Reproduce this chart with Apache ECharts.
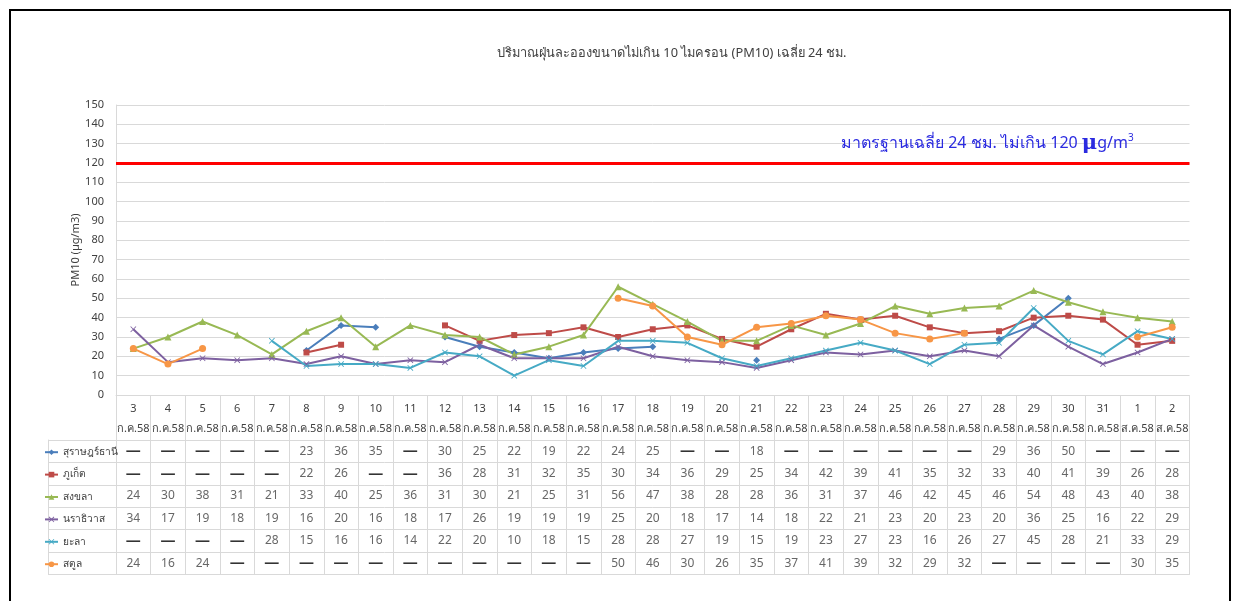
<!DOCTYPE html>
<html>
<head>
<meta charset="utf-8">
<script src="https://cdn.jsdelivr.net/npm/echarts@6/dist/echarts.min.js"></script>
<style>
html,body{margin:0;padding:0;background:#fff;}
#chart{width:1236px;height:601px;}
</style>
</head>
<body>
<div id="chart"></div>
<script>
var days = ['3','4','5','6','7','8','9','10','11','12','13','14','15','16','17','18','19','20','21','22','23','24','25','26','27','28','29','30','31','1','2'];
var months = ['ก.ค.58','ก.ค.58','ก.ค.58','ก.ค.58','ก.ค.58','ก.ค.58','ก.ค.58','ก.ค.58','ก.ค.58','ก.ค.58','ก.ค.58','ก.ค.58','ก.ค.58','ก.ค.58','ก.ค.58','ก.ค.58','ก.ค.58','ก.ค.58','ก.ค.58','ก.ค.58','ก.ค.58','ก.ค.58','ก.ค.58','ก.ค.58','ก.ค.58','ก.ค.58','ก.ค.58','ก.ค.58','ก.ค.58','ส.ค.58','ส.ค.58'];
var names = ['สุราษฎร์ธานี','ภูเก็ต','สงขลา','นราธิวาส','ยะลา','สตูล'];
var surat = [null,null,null,null,null,23,36,35,null,30,25,22,19,22,24,25,null,null,18,null,null,null,null,null,null,29,36,50,null,null,null];
var phuket = [null,null,null,null,null,22,26,null,null,36,28,31,32,35,30,34,36,29,25,34,42,39,41,35,32,33,40,41,39,26,28];
var songkhla = [24,30,38,31,21,33,40,25,36,31,30,21,25,31,56,47,38,28,28,36,31,37,46,42,45,46,54,48,43,40,38];
var narathiwat = [34,17,19,18,19,16,20,16,18,17,26,19,19,19,25,20,18,17,14,18,22,21,23,20,23,20,36,25,16,22,29];
var yala = [null,null,null,null,28,15,16,16,14,22,20,10,18,15,28,28,27,19,15,19,23,27,23,16,26,27,45,28,21,33,29];
var satun = [24,16,24,null,null,null,null,null,null,null,null,null,null,null,50,46,30,26,35,37,41,39,32,29,32,null,null,null,null,30,35];
var yTicks = {min:0, max:150, interval:10};
var standardValue = 120;

var allData = [surat, phuket, songkhla, narathiwat, yala, satun];
var colors = ['#4a7ebb','#be4b48','#98b954','#7d60a0','#46aac5','#f79646'];
var xPath = 'path://M0,1L1,0L5,4L9,0L10,1L6,5L10,9L9,10L5,6L1,10L0,9L4,5Z';
var symbols = ['diamond','rect','triangle',xPath,xPath,'circle'];
var symSizes = [7,6,7,6,6,7];

var FONT = '"Noto Sans", "DejaVu Sans", sans-serif';

var series = [];
names.forEach(function(n, k){
  var s = {
    name: n, type: 'line', xAxisIndex: 0, yAxisIndex: 0,
    data: allData[k], connectNulls: false,
    symbol: symbols[k], symbolSize: symSizes[k], showSymbol: true,
    lineStyle: {width: 2, color: colors[k]},
    itemStyle: {color: colors[k]},
    z: 3
  };
  if (k === 0) {
    s.markLine = {
      silent: true, symbol: 'none', animation: false,
      data: [{yAxis: standardValue}],
      lineStyle: {color: '#ff0000', width: 3, type: 'solid'},
      label: {show: false}
    };
  }
  series.push(s);
});

var tableData = [];
allData.forEach(function(arr, r){
  arr.forEach(function(v, i){
    tableData.push({value: [i, r], cell: v});
  });
});
series.push({
  type: 'scatter', xAxisIndex: 1, yAxisIndex: 1, symbolSize: 2,
  itemStyle: {color: 'rgba(0,0,0,0)'}, silent: true,
  data: tableData,
  label: {
    show: true, position: 'inside', color: '#404040', fontSize: 12, fontFamily: FONT,
    formatter: function(p){ var v = p.data.cell; return (v === null || v === undefined) ? '{d|—}' : String(v); },
    rich: {d: {color: '#000', fontSize: 15, fontWeight: 'bold'}}
  }
});

var gridLine = '#d9d9d9';
var option = {
  backgroundColor: '#fff',
  animation: false,
  textStyle: {fontFamily: FONT},
  title: [
    {text: 'ปริมาณฝุ่นละอองขนาดไม่เกิน 10 ไมครอน (PM10) เฉลี่ย 24 ชม.', left: 492, top: 42,
     textStyle: {fontSize: 12.8, fontWeight: 'normal', color: '#404040', fontFamily: FONT}},
    {text: 'มาตรฐานเฉลี่ย 24 ชม. ไม่เกิน 120 {mu|μ}g/m{sup|3}', left: 836, top: 128,
     textStyle: {fontSize: 16, fontWeight: 'normal', color: '#2b2be0', fontFamily: FONT,
       rich: {mu: {fontSize: 21, fontWeight: 'bold', color: '#2b2be0', fontFamily: 'DejaVu Serif'},
              sup: {fontSize: 10, color: '#2b2be0', padding: [0,0,10,0]}}}}
  ],
  legend: {
    orient: 'vertical', left: 44, top: 441, padding: 0, itemGap: 0, itemWidth: 13, itemHeight: 7,
    data: names, selectedMode: false,
    textStyle: {fontSize: 10.2, color: '#404040', fontFamily: FONT, lineHeight: 22.4}
  },
  graphic: [{
    type: 'rect', shape: {x: 10, y: 10, width: 1220, height: 600}, silent: true,
    style: {fill: null, stroke: '#000', lineWidth: 2}, z: -10
  }],
  grid: [
    {left: 116, right: 46.5, top: 105, bottom: 206},
    {left: 116, right: 46.5, top: 440, height: 134.4}
  ],
  xAxis: [
    {type: 'category', gridIndex: 0, data: days, boundaryGap: true,
     axisLine: {show: true, lineStyle: {color: gridLine}},
     axisTick: {show: true, length: 45, interval: 0, alignWithLabel: false, lineStyle: {color: gridLine}},
     axisLabel: {interval: 0, margin: 4, color: '#404040', fontSize: 11, lineHeight: 20, fontFamily: FONT,
       formatter: function(v, i){ return days[i] + '\n' + months[i]; }},
     splitLine: {show: false}},
    {type: 'category', gridIndex: 1, data: days, boundaryGap: true,
     axisLine: {show: true, lineStyle: {color: gridLine}},
     axisTick: {show: false}, axisLabel: {show: false},
     splitLine: {show: true, interval: 0, lineStyle: {color: gridLine}}}
  ],
  yAxis: [
    {type: 'value', gridIndex: 0, min: yTicks.min, max: yTicks.max, interval: yTicks.interval,
     name: 'PM10 (µg/m3)', nameLocation: 'middle', nameRotate: 90, nameGap: 35, nameMoveOverlap: false,
     nameTextStyle: {fontSize: 11, color: '#404040', fontFamily: FONT},
     axisLine: {show: true, lineStyle: {color: gridLine}},
     axisTick: {show: false},
     axisLabel: {color: '#404040', fontSize: 11, margin: 12, fontFamily: FONT},
     splitLine: {show: true, lineStyle: {color: gridLine, width: 1}}},
    {type: 'category', gridIndex: 1, data: names, inverse: true, boundaryGap: true,
     axisLine: {show: true, lineStyle: {color: gridLine}},
     axisTick: {show: true, length: 68, interval: 0, alignWithLabel: false, lineStyle: {color: gridLine}},
     axisLabel: {show: false},
     splitLine: {show: true, interval: 0, lineStyle: {color: gridLine}}},
    {type: 'category', gridIndex: 1, data: names, inverse: true, position: 'left', offset: 68,
     axisLine: {show: true, lineStyle: {color: gridLine}},
     axisTick: {show: false}, axisLabel: {show: false}, splitLine: {show: false}}
  ],
  series: series
};

var chart = echarts.init(document.getElementById('chart'), null, {renderer: 'canvas'});
chart.setOption(option);
</script>
</body>
</html>
